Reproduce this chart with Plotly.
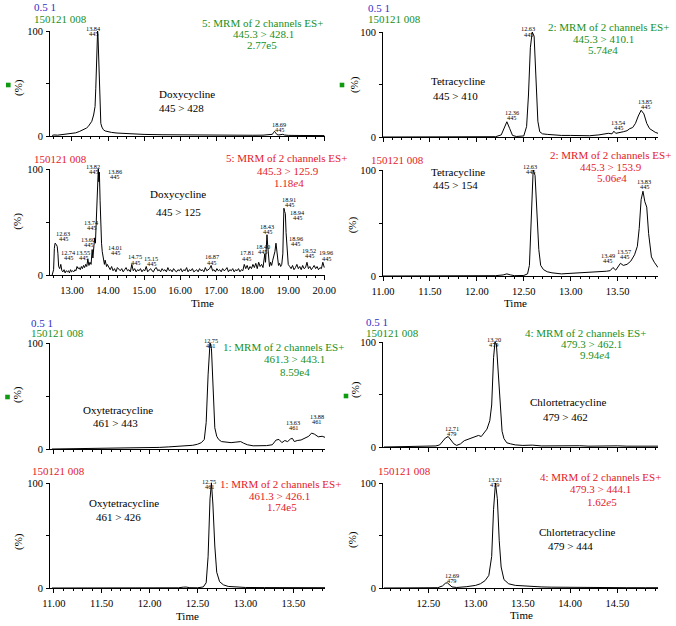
import plotly.graph_objects as go

W, H = 676, 626
FONT = "Liberation Serif"
BLUE = "#2e2ec8"
GREEN = "#17901c"
RED = "#e4201f"

# ---------------- data (time in min, relative intensity in %) ----------------
doxy428_time = [12.45, 12.5, 12.6, 12.7, 12.8, 12.9, 13.0, 13.1, 13.2, 13.3,
                13.4, 13.45, 13.5, 13.55, 13.6, 13.62, 13.64, 13.66, 13.68, 13.7,
                13.71, 13.72, 13.74, 13.76, 13.78, 13.8, 13.83, 13.87, 13.92, 14.0,
                14.1, 14.25, 14.4, 14.6, 14.8, 15.0, 15.5, 16.0, 16.5, 17.0,
                17.5, 18.0, 18.3, 18.5, 18.56, 18.59, 18.62, 18.65, 18.69, 18.74,
                18.8, 18.85, 18.9, 19.0, 19.3, 19.6, 20.0]
doxy428_int = [0.5, 1.0, 0.8, 1.2, 1.3, 1.8, 2.2, 3.0, 4.2, 5.5,
               7.5, 9.0, 11.5, 14.0, 20.0, 26.0, 28.0, 45.0, 75.0, 96.0,
               100, 97, 70, 38, 18, 12, 8.5, 6, 4.8, 4.0,
               3.4, 2.8, 2.4, 2.0, 1.7, 1.5, 1.2, 1.0, 0.9, 0.8,
               0.7, 0.7, 0.8, 0.9, 1.6, 3.2, 4.5, 3.0, 1.3, 1.0,
               1.2, 1.6, 0.9, 0.6, 0.5, 0.4, 0.4]

# Doxycycline 445 > 125 (noisy trace), built from segments
doxy125_time_a = [12.45, 12.49, 12.51, 12.53, 12.56, 12.59, 12.61, 12.63, 12.66, 12.69,
                  12.72, 12.75, 12.78, 12.81, 12.84, 12.87, 12.90, 12.93, 12.96, 12.99,
                  13.02, 13.05, 13.08, 13.11, 13.14, 13.17, 13.20, 13.23, 13.26, 13.29,
                  13.32, 13.35, 13.38, 13.41, 13.44, 13.47, 13.50, 13.53, 13.56, 13.58,
                  13.61, 13.63, 13.65, 13.67, 13.69, 13.71, 13.73, 13.745, 13.76, 13.78,
                  13.80, 13.82, 13.84, 13.86, 13.88, 13.90, 13.92, 13.94, 13.96, 13.98]
doxy125_int_a = [0, 5, 25, 30, 29, 27, 20, 8, 6, 10,
                 4, 3, 5, 2, 4, 3, 4, 2, 5, 3,
                 4, 3, 5, 4, 8, 6, 7, 5, 8, 6,
                 9, 7, 10, 8, 15, 9, 12, 10, 24, 16,
                 28, 35, 30, 45, 70, 90, 100, 88, 97, 70,
                 45, 30, 22, 18, 15, 10, 14, 12, 8, 10]
doxy125_start_b, doxy125_step_b = 14.02, 0.04
doxy125_int_b = [7, 5, 8, 4, 6, 3, 7, 5, 4, 6, 3, 5, 7, 4, 5, 3, 10, 4, 6, 3,
                 5, 4, 6, 3, 5, 4, 8, 3, 5, 6, 4, 3, 6, 7, 4, 5, 3, 6, 4, 5,
                 3, 7, 4, 5, 3, 6, 4, 3, 5, 4, 6, 3, 5, 4, 7, 3, 5, 4, 6, 3,
                 4, 5, 3, 6, 4, 5, 3, 7, 4, 5, 6, 9, 4, 5, 3, 6, 4, 5, 3, 6,
                 4, 5, 7, 3, 5, 4, 6, 3, 5, 4, 6, 3, 5, 4, 10]
doxy125_time_c = [17.82, 17.86, 17.90, 17.94, 17.98, 18.02, 18.06, 18.10, 18.14, 18.18,
                  18.22, 18.26, 18.30, 18.33, 18.35, 18.37, 18.39, 18.41, 18.43, 18.45,
                  18.48, 18.51, 18.54, 18.57, 18.60, 18.63, 18.66, 18.68, 18.70, 18.73,
                  18.76, 18.79, 18.82, 18.85, 18.87, 18.88, 18.90, 18.92, 18.94, 18.96,
                  18.98, 19.00]
doxy125_int_c = [6, 9, 5, 8, 6, 10, 7, 11, 6, 12,
                 8, 10, 7, 14, 20, 12, 25, 38, 28, 15,
                 8, 12, 9, 14, 18, 22, 30, 24, 12, 9,
                 11, 8, 10, 20, 50, 63, 60, 58, 40, 25,
                 18, 10]
doxy125_start_d, doxy125_step_d = 19.04, 0.04
doxy125_int_d = [8, 6, 9, 5, 7, 10, 6, 8, 5, 9, 6, 7, 12, 6, 8, 5, 7, 9, 6, 8, 5, 7, 6, 12, 7]

tetra410_time = [11.0, 11.5, 12.0, 12.2, 12.26, 12.29, 12.32, 12.35, 12.38, 12.42,
                 12.46, 12.5, 12.53, 12.55, 12.57, 12.59, 12.61, 12.63, 12.65, 12.67,
                 12.7, 12.75, 12.8, 12.9, 13.0, 13.1, 13.2, 13.3, 13.35, 13.4,
                 13.44, 13.46, 13.48, 13.52, 13.56, 13.6, 13.63, 13.66, 13.69, 13.72,
                 13.75, 13.78, 13.81, 13.84, 13.87, 13.9, 13.93]
tetra410_int = [0, 0, 0, 0.3, 2, 9, 14.5, 8, 1.5, 0.5,
                0.5, 1, 10, 40, 85, 100, 96, 60, 15, 5,
                3, 2.5, 2, 1.5, 1.5, 1, 1.2, 2, 3, 3.5,
                3, 5.5, 3.5, 4, 5, 6, 8, 9, 13, 20,
                25.5, 22, 13, 8, 6, 4.5, 3.5]

tetra154_time = [11.0, 11.5, 12.0, 12.2, 12.28, 12.32, 12.36, 12.4, 12.5, 12.54,
                 12.56, 12.58, 12.6, 12.62, 12.64, 12.66, 12.68, 12.71, 12.75, 12.8,
                 12.9, 13.0, 13.1, 13.2, 13.3, 13.38, 13.42, 13.45, 13.48, 13.51,
                 13.53, 13.56, 13.6, 13.64, 13.68, 13.71, 13.73, 13.75, 13.77, 13.79,
                 13.81, 13.83, 13.86, 13.89, 13.91, 13.93]
tetra154_int = [0, 0, 0, 0.3, 1, 2, 1, 0.3, 0.5, 2,
                10, 55, 100, 95, 60, 25, 10, 6, 4, 3,
                2, 2.5, 2.5, 3, 3.5, 4.5, 5, 8, 5.5, 9,
                12, 10, 11, 14, 20, 28, 45, 72, 80, 70,
                65, 40, 18, 13, 10, 8]

oxy443_time = [10.98, 11.2, 11.4, 11.6, 11.8, 12.0, 12.1, 12.2, 12.3, 12.4,
               12.45, 12.5, 12.54, 12.57, 12.59, 12.61, 12.63, 12.645, 12.66, 12.68,
               12.7, 12.72, 12.75, 12.8, 12.85, 12.9, 12.95, 12.98, 13.02, 13.08,
               13.15, 13.22, 13.28, 13.32, 13.35, 13.38, 13.41, 13.44, 13.47, 13.49,
               13.51, 13.54, 13.58, 13.62, 13.66, 13.69, 13.72, 13.76, 13.8, 13.83]
oxy443_int = [0, 0.2, 0.4, 0.6, 1, 1.2, 1.5, 2, 2.5, 3,
              3.5, 4.5, 6, 9, 25, 70, 100, 95, 55, 20,
              12, 9, 7, 6.5, 6, 6.5, 7, 5.5, 4, 3,
              3, 3.2, 4, 8.5, 9, 6, 8, 7, 9.5, 10,
              7, 8, 8.5, 10, 12, 15, 14, 11.5, 12, 11]

oxy426_time = [10.98, 11.5, 12.0, 12.3, 12.35, 12.38, 12.42, 12.5, 12.56, 12.59,
               12.61, 12.63, 12.645, 12.66, 12.68, 12.7, 12.73, 12.77, 12.82, 12.9,
               13.0, 13.2, 13.4, 13.6, 13.83]
oxy426_int = [0, 0, 0.1, 0.2, 0.8, 0.9, 0.3, 0.2, 1, 5,
              30, 85, 100, 80, 40, 15, 6, 3, 1.5, 1,
              0.5, 0.4, 0.4, 0.3, 0.3]

chlor462_time = [12.03, 12.2, 12.4, 12.5, 12.58, 12.62, 12.65, 12.68, 12.71, 12.74,
                 12.77, 12.8, 12.84, 12.88, 12.92, 12.96, 13.0, 13.03, 13.06, 13.09,
                 13.12, 13.15, 13.17, 13.19, 13.205, 13.22, 13.24, 13.26, 13.28, 13.3,
                 13.33, 13.37, 13.42, 13.5, 13.6, 13.7, 13.8, 13.9, 14.0, 14.1,
                 14.2, 14.3, 14.4, 14.5, 14.6, 14.7, 14.8, 14.93]
chlor462_int = [0, 0.3, 0.4, 0.5, 1, 2, 5, 8.5, 10, 7,
                3, 1.5, 3, 6, 7.5, 9, 10, 11, 10, 13,
                17, 25, 40, 85, 100, 98, 70, 40, 15, 8,
                4, 3, 2, 1.5, 1.8, 1, 1.2, 0.8, 1, 1.2,
                0.8, 1, 0.9, 1.1, 0.8, 1, 0.9, 0.8]

chlor444_time = [12.03, 12.3, 12.5, 12.6, 12.65, 12.68, 12.7, 12.72, 12.75, 12.8,
                 12.85, 12.9, 13.0, 13.05, 13.1, 13.14, 13.17, 13.19, 13.21, 13.23,
                 13.25, 13.27, 13.3, 13.35, 13.42, 13.5, 13.6, 13.7, 13.8, 14.0,
                 14.2, 14.4, 14.6, 14.8, 14.93]
chlor444_int = [0, 0, 0.1, 0.3, 2, 4.5, 5, 3, 1, 0.5,
                0.8, 1.2, 2.5, 4, 7, 12, 30, 75, 100, 85,
                45, 20, 8, 4, 2.5, 2, 1.2, 1, 0.8, 0.5,
                0.4, 0.4, 0.3, 0.3, 0.3]

# assemble the noisy trace
doxy125_time = (doxy125_time_a
                + [round(doxy125_start_b + doxy125_step_b * i, 2) for i in range(len(doxy125_int_b))]
                + doxy125_time_c
                + [round(doxy125_start_d + doxy125_step_d * i, 2) for i in range(len(doxy125_int_d))])
doxy125_int = doxy125_int_a + doxy125_int_b + doxy125_int_c + doxy125_int_d

# ---------------- layout (pixel boxes) ----------------
panels = [
    dict(t=doxy428_time, v=doxy428_int, px=(50, 325), py=(31, 136), rng=[12.39, 20.02], tick0=13, dtick=1, minor=0.25, labels=False),
    dict(t=doxy125_time, v=doxy125_int, px=(50, 325), py=(169, 275), rng=[12.39, 20.02], tick0=13, dtick=1, minor=0.25, labels=True),
    dict(t=tetra410_time, v=tetra410_int, px=(383, 658), py=(32, 137), rng=[11.0, 13.93], tick0=11.5, dtick=0.5, minor=0.1, labels=False),
    dict(t=tetra154_time, v=tetra154_int, px=(383, 658), py=(170, 276), rng=[11.0, 13.93], tick0=11.5, dtick=0.5, minor=0.1, labels=True),
    dict(t=oxy443_time, v=oxy443_int, px=(50, 325), py=(343, 449), rng=[10.96, 13.83], tick0=11.5, dtick=0.5, minor=0.1, labels=False),
    dict(t=oxy426_time, v=oxy426_int, px=(50, 325), py=(483, 588), rng=[10.96, 13.83], tick0=11.5, dtick=0.5, minor=0.1, labels=True),
    dict(t=chlor462_time, v=chlor462_int, px=(383, 658), py=(342, 447), rng=[12.02, 14.93], tick0=12.5, dtick=0.5, minor=0.1, labels=False),
    dict(t=chlor444_time, v=chlor444_int, px=(383, 658), py=(483, 588), rng=[12.02, 14.93], tick0=12.5, dtick=0.5, minor=0.1, labels=True),
]

fig = go.Figure()
lay = {}
for i, p in enumerate(panels, start=1):
    xn = "x" if i == 1 else f"x{i}"
    yn = "y" if i == 1 else f"y{i}"
    fig.add_trace(go.Scatter(x=p["t"], y=p["v"], mode="lines",
                             line=dict(color="black", width=1),
                             xaxis=xn, yaxis=yn, showlegend=False, hoverinfo="skip"))
    lay["xaxis" if i == 1 else f"xaxis{i}"] = dict(
        domain=[p["px"][0] / W, p["px"][1] / W], range=p["rng"], anchor=yn,
        automargin=False,
        showline=True, linecolor="black", linewidth=1, mirror=False,
        showgrid=False, zeroline=False,
        ticks="outside", ticklen=4, tickwidth=1, tickcolor="black",
        tickmode="linear", tick0=p["tick0"], dtick=p["dtick"], tickformat=".2f",
        showticklabels=p["labels"], ticklabelstandoff=1,
        tickfont=dict(family=FONT, size=10.5, color="black"),
        minor=dict(ticks="outside", ticklen=2, tickwidth=1, tickcolor="black", dtick=p["minor"], showgrid=False),
        fixedrange=True,
    )
    lay["yaxis" if i == 1 else f"yaxis{i}"] = dict(
        domain=[1 - p["py"][1] / H, 1 - p["py"][0] / H], range=[0, 100], anchor=xn,
        automargin=False,
        showline=True, linecolor="black", linewidth=1,
        showgrid=False, zeroline=False,
        ticks="outside", ticklen=3, tickwidth=1, tickcolor="black",
        tickmode="array", tickvals=[0, 50, 100], ticktext=["0", "", "100"],
        tickfont=dict(family=FONT, size=10.5, color="black"), ticklabelstandoff=1,
        fixedrange=True,
    )


def txt(s, px, py, color="black", size=11, xanchor="center", angle=0):
    return dict(text=s, x=px / W, y=1 - py / H, xref="paper", yref="paper",
                showarrow=False, font=dict(family=FONT, size=size, color=color),
                xanchor=xanchor, yanchor="middle", textangle=angle, borderpad=0)


ann = []
# header / channel text blocks
ann += [txt("0.5 1", 33, 7.5, BLUE, xanchor="left"), txt("150121 008", 33, 18.5, GREEN, xanchor="left"),
        txt("5: MRM of 2 channels ES+", 262, 22.7, GREEN), txt("445.3 &gt; 428.1", 263, 34, GREEN),
        txt("2.77e5", 262, 45, GREEN),
        txt("Doxycycline", 186.7, 94), txt("445 &gt; 428", 181.7, 108.3)]
ann += [txt("150121 008", 33, 159.3, RED, xanchor="left"),
        txt("5: MRM of 2 channels ES+", 286, 158.3, RED), txt("445.3 &gt; 125.9", 288, 170.7, RED),
        txt("1.18<i>e</i>4", 289, 182.7, RED),
        txt("Doxycycline", 178.3, 194), txt("445 &gt; 125", 178.7, 211.7),
        txt("Time", 202, 303.3)]
ann += [txt("0.5 1", 366.7, 8, BLUE, xanchor="left"), txt("150121 008", 366.7, 18.5, GREEN, xanchor="left"),
        txt("2: MRM of 2 channels ES+", 608, 26.7, GREEN), txt("445.3 &gt; 410.1", 603, 39, GREEN),
        txt("5.74<i>e</i>4", 603, 50, GREEN),
        txt("Tetracycline", 458.3, 80.7), txt("445 &gt; 410", 455, 95.7)]
ann += [txt("150121 008", 370, 160, RED, xanchor="left"),
        txt("2: MRM of 2 channels ES+", 610, 155, RED), txt("445.3 &gt; 153.9", 611, 166.7, RED),
        txt("5.06<i>e</i>4", 612, 178.3, RED),
        txt("Tetracycline", 458.3, 171.7), txt("445 &gt; 154", 455, 185),
        txt("Time", 515, 303.3)]
ann += [txt("0.5 1", 30, 322.5, BLUE, xanchor="left"), txt("150121 008", 30, 333.5, GREEN, xanchor="left"),
        txt("1: MRM of 2 channels ES+", 283, 347.3, GREEN), txt("461.3 &gt; 443.1", 294, 359.3, GREEN),
        txt("8.59e4", 295, 371.7, GREEN),
        txt("Oxytetracycline", 118.3, 410), txt("461 &gt; 443", 115.7, 422.7)]
ann += [txt("150121 008", 30.7, 470.7, RED, xanchor="left"),
        txt("1: MRM of 2 channels ES+", 280, 484, RED), txt("461.3 &gt; 426.1", 279, 496, RED),
        txt("1.74e5", 281.7, 506.7, RED),
        txt("Oxytetracycline", 124, 503.3), txt("461 &gt; 426", 118.3, 516.7),
        txt("Time", 187, 616)]
ann += [txt("0.5 1", 365, 322, BLUE, xanchor="left"), txt("150121 008", 365, 333, GREEN, xanchor="left"),
        txt("4: MRM of 2 channels ES+", 585, 332.7, GREEN), txt("479.3 &gt; 462.1", 591.3, 344, GREEN),
        txt("9.94<i>e</i>4", 595, 355, GREEN),
        txt("Chlortetracycline", 567.5, 402.3), txt("479 &gt; 462", 565, 417.3)]
ann += [txt("150121 008", 376.7, 470.7, RED, xanchor="left"),
        txt("4: MRM of 2 channels ES+", 600.5, 476.7, RED), txt("479.3 &gt; 444.1", 600.7, 489.3, RED),
        txt("1.62<i>e</i>5", 601.7, 501.7, RED),
        txt("Chlortetracycline", 576.7, 531.7), txt("479 &gt; 444", 570, 546),
        txt("Time", 521.7, 615)]

# y-axis titles
for (px, py) in [(18, 88), (18, 221.7), (355, 85), (353.3, 225), (17, 395), (18.3, 541.7), (355, 390), (352, 540)]:
    ann.append(txt("(%)", px, py, angle=-90))

# peak labels: (retention time, m/z, centre x px, first line y px)
peak_labels = [
    ("13.84", "445", 94, 28.3), ("18.69", "445", 279, 124),
    ("13.82", "445", 93, 166), ("13.86", "445", 114.5, 171.5), ("12.63", "445", 63.3, 233.3),
    ("12.74", "445", 68, 252.7), ("13.55", "445", 83, 252.7), ("13.60", "445", 88, 239),
    ("13.74", "445", 91.7, 222.7), ("14.01", "445", 115, 247.5), ("14.75", "445", 135, 257),
    ("15.15", "445", 151, 258.5), ("16.87", "445", 211.7, 257), ("17.81", "445", 246.7, 253),
    ("18.40", "445", 262.5, 246), ("18.43", "445", 267.3, 226.7), ("18.91", "445", 289, 199.3),
    ("18.94", "445", 297, 212.3), ("18.96", "445", 295.5, 238.3), ("19.52", "445", 309, 250.5),
    ("19.96", "445", 326, 253),
    ("12.63", "445", 528, 29), ("12.36", "445", 511.7, 112.3), ("13.54", "445", 618, 122.7),
    ("13.85", "445", 645, 101),
    ("12.63", "445", 530, 166), ("13.83", "445", 644, 181.7), ("13.49", "445", 607.5, 255),
    ("13.57", "445", 624, 251.7),
    ("12.75", "461", 210.5, 340.7), ("13.63", "461", 293.3, 422.7), ("13.88", "461", 316.7, 416),
    ("12.75", "461", 209, 481),
    ("13.20", "479", 493.5, 339.3), ("12.71", "479", 451.7, 428.3),
    ("13.21", "479", 494.5, 479.3), ("12.69", "479", 451.7, 575),
]
for rt, mz, px, py in peak_labels:
    ann.append(txt(rt, px, py, size=6.3))
    ann.append(txt(mz, px, py + 5.2, size=6.3))

# green channel markers
shapes = []
for (px, py) in [(8.3, 85), (342, 85), (7.5, 397), (346, 396)]:
    shapes.append(dict(type="rect", xref="paper", yref="paper",
                       x0=(px - 2.3) / W, x1=(px + 2.3) / W,
                       y0=1 - (py + 2.3) / H, y1=1 - (py - 2.3) / H,
                       fillcolor="#109a10", line=dict(width=0)))

fig.update_layout(width=W, height=H, margin=dict(l=0, r=0, t=0, b=0),
                  paper_bgcolor="white", plot_bgcolor="white",
                  annotations=ann, shapes=shapes, showlegend=False, **lay)
fig.write_html("out.html", config={"displayModeBar": False, "staticPlot": True},
               post_script="document.body.style.margin='0';document.body.style.overflow='hidden';")
